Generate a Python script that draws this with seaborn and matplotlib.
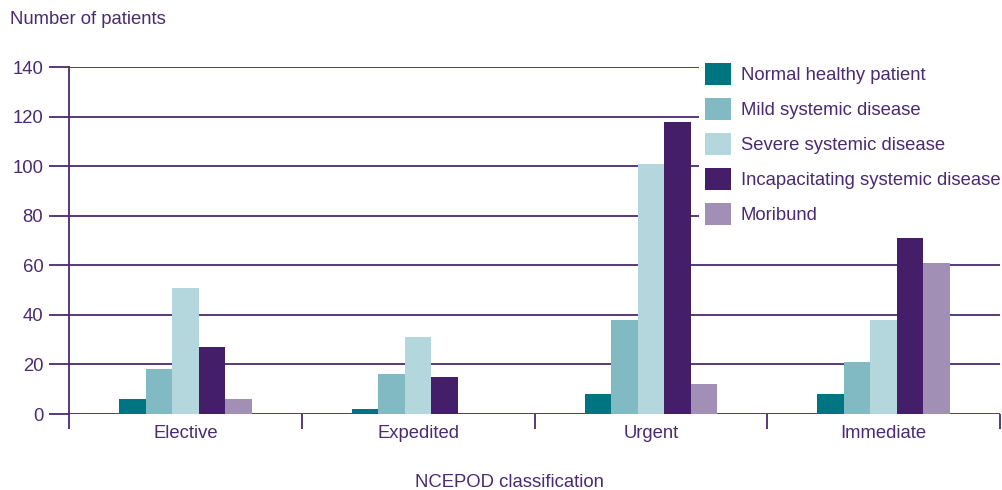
import pandas as pd
import seaborn as sns
import matplotlib.pyplot as plt

# values
urgency = ['Elective', 'Expedited', 'Urgent', 'Immediate']
asa_grades = ['Normal healthy patient', 'Mild systemic disease', 'Severe systemic disease',
              'Incapacitating systemic disease', 'Moribund']
normal = [6, 2, 8, 8]
mild = [18, 16, 38, 21]
severe = [51, 31, 101, 38]
incapacitating = [27, 15, 118, 71]
moribund = [6, 0, 12, 61]
colours = ['#007582', '#81bac2', '#b3d7dc', '#441e68', '#a28fb5']

txt = '#4a2a72'
line = '#4b2a70'
fs = 13.3

rows = []
for grade, vals in zip(asa_grades, [normal, mild, severe, incapacitating, moribund]):
    for cat, v in zip(urgency, vals):
        rows.append({'urgency': cat, 'grade': grade, 'patients': v})
df = pd.DataFrame(rows)

sns.set_style('white')
plt.rcParams['font.family'] = ['Liberation Sans', 'DejaVu Sans']
plt.rcParams['font.size'] = fs

fig = plt.figure(figsize=(10.03, 4.9), dpi=100)
ax = fig.add_axes([69 / 1003, 1 - 414 / 490, (1000 - 69) / 1003, 347 / 490])

sns.barplot(data=df, x='urgency', y='patients', hue='grade', order=urgency,
            hue_order=asa_grades, palette=colours, width=0.57, gap=0,
            saturation=1, linewidth=0, ax=ax)

ax.set_ylim(0, 140)
ax.set_xlim(-0.5, 3.5)
ax.set_yticks(range(0, 141, 20))
ax.yaxis.grid(True, color=line, lw=1.3)
ax.set_axisbelow(True)
for s in ['top', 'right', 'bottom']:
    ax.spines[s].set_visible(False)
ax.spines['left'].set_color(line)
ax.spines['left'].set_linewidth(1.3)

ax.tick_params(axis='y', direction='out', length=14.5, width=1.3, color=line,
               labelcolor=txt, labelsize=fs, pad=4, left=True)
ax.tick_params(axis='x', length=0, labelcolor=txt, labelsize=fs, pad=8)
ax.set_xticks([-0.5, 0.5, 1.5, 2.5, 3.5], minor=True)
ax.tick_params(axis='x', which='minor', direction='out', length=10.5, width=1.3,
               color=line, bottom=True)

ax.set_xlabel('')
ax.set_ylabel('')
fig.text(10 / 1003, 1 - 20 / 490, 'Number of patients', color=txt, fontsize=fs,
         va='center', ha='left')
fig.text(509 / 1003, 1 - 482 / 490, 'NCEPOD classification', color=txt, fontsize=fs,
         va='center', ha='center')

handles, labels = ax.get_legend_handles_labels()
ax.legend(handles, labels, loc='upper left', bbox_to_anchor=(699 / 1003, 1 - 57 / 490),
          bbox_transform=fig.transFigure, frameon=True, facecolor='white',
          edgecolor='none', framealpha=1, fancybox=False, fontsize=fs,
          labelcolor=txt, handlelength=1.4, handleheight=1.4, handletextpad=0.5,
          labelspacing=0.74, borderpad=0.35, borderaxespad=0)

fig.savefig('out.png', dpi=100)
